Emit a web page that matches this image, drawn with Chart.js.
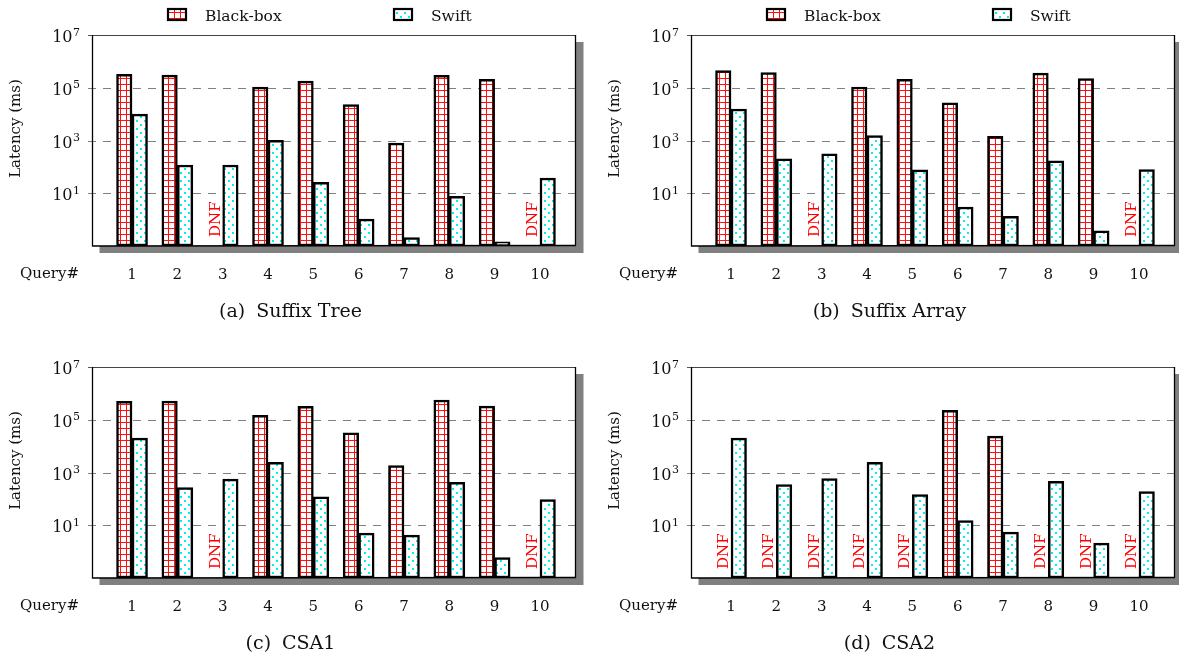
<!DOCTYPE html>
<html><head><meta charset="utf-8">
<script src="https://cdn.jsdelivr.net/npm/chart.js@4.4.0/dist/chart.umd.min.js"></script>
<style>
html,body{margin:0;padding:0;background:#fff;overflow:hidden;width:1179px;height:655px}
.p{position:absolute}
</style></head><body>
<div class="p" style="left:0;top:0"><canvas id="ca" width="590" height="330"></canvas></div>
<div class="p" style="left:599px;top:0"><canvas id="cb" width="580" height="330"></canvas></div>
<div class="p" style="left:0;top:332px"><canvas id="cc" width="590" height="330"></canvas></div>
<div class="p" style="left:599px;top:332px"><canvas id="cd" width="580" height="330"></canvas></div>
<script>
const queries = ['1','2','3','4','5','6','7','8','9','10'];
const yTickValues = [1e1, 1e3, 1e5, 1e7];
const seriesNames = ['Black-box', 'Swift'];
const panelLabels = ['(a)', '(b)', '(c)', '(d)'];
const panelNames = ['Suffix Tree', 'Suffix Array', 'CSA1', 'CSA2'];
const yTitle = 'Latency (ms)';
const xTitle = 'Query#';
const dnfText = 'DNF';

const blackBoxSuffixTree  = [3.2e5, 3.0e5, null, 1.06e5, 1.78e5, 2.3e4, 790, 2.95e5, 2.1e5, null];
const swiftSuffixTree     = [1.0e4, 118, 118, 1020, 26, 1.05, 0.21, 7.6, 0.145, 38];
const blackBoxSuffixArray = [4.5e5, 3.8e5, null, 1.07e5, 2.1e5, 2.7e4, 1450, 3.6e5, 2.25e5, null];
const swiftSuffixArray    = [1.56e4, 200, 310, 1540, 77, 3.0, 1.32, 168, 0.38, 79];
const blackBoxCSA1        = [5.0e5, 5.1e5, null, 1.48e5, 3.2e5, 3.2e4, 1840, 5.6e5, 3.3e5, null];
const swiftCSA1           = [2.0e4, 270, 560, 2450, 120, 5.0, 4.2, 420, 0.59, 95];
const blackBoxCSA2        = [null, null, null, null, null, 2.3e5, 2.4e4, null, null, null];
const swiftCSA2           = [2.0e4, 350, 590, 2450, 147, 15, 5.5, 460, 2.1, 190];

const SERIF = '"DejaVu Serif", serif';
const TXT = '#111';

const pctx = document.createElement('canvas').getContext('2d');
function makeGrid() {
  const c = document.createElement('canvas'); c.width = 6; c.height = 6;
  const g = c.getContext('2d');
  g.fillStyle = '#fff'; g.fillRect(0, 0, 6, 6);
  g.fillStyle = '#ff1010'; g.fillRect(0, 0, 6, 1); g.fillRect(0, 0, 1, 6);
  return pctx.createPattern(c, 'repeat');
}
function makeDots() {
  const c = document.createElement('canvas'); c.width = 8; c.height = 8;
  const g = c.getContext('2d');
  g.fillStyle = '#fff'; g.fillRect(0, 0, 8, 8);
  g.fillStyle = '#00f0f0'; g.fillRect(0, 0, 2, 2); g.fillRect(4, 4, 2, 2);
  return pctx.createPattern(c, 'repeat');
}
const redGrid = makeGrid();
const cyanDots = makeDots();
const fills = [redGrid, cyanDots];

const decor = {
  id: 'decor',
  beforeDraw(chart) {
    const ctx = chart.ctx, a = chart.chartArea, ys = chart.scales.y;
    ctx.save();
    ctx.fillStyle = '#fff'; ctx.fillRect(0, 0, chart.width, chart.height);
    ctx.fillStyle = '#808080';
    ctx.fillRect(a.left + 7.5, a.top + 7, a.right - a.left, a.bottom - a.top);
    ctx.fillStyle = '#fff';
    ctx.fillRect(a.left, a.top, a.right - a.left, a.bottom - a.top);
    ctx.strokeStyle = '#808080'; ctx.lineWidth = 1.2; ctx.setLineDash([8, 7]);
    yTickValues.forEach(v => {
      if (v >= ys.max) return;
      const y = Math.round(ys.getPixelForValue(v)) + 0.5;
      ctx.beginPath(); ctx.moveTo(a.left - 4, y); ctx.lineTo(a.right, y); ctx.stroke();
    });
    ctx.restore();
  },
  afterDatasetsDraw(chart, args, opts) {
    const ctx = chart.ctx, a = chart.chartArea, ys = chart.scales.y, xs = chart.scales.x;
    ctx.save();
    ctx.setLineDash([]);
    ctx.strokeStyle = '#444'; ctx.lineWidth = 1.2;
    ctx.beginPath(); ctx.moveTo(a.left, a.top + 0.5); ctx.lineTo(a.right, a.top + 0.5); ctx.stroke();
    ctx.strokeStyle = '#000'; ctx.lineWidth = 1.3;
    ctx.beginPath(); ctx.moveTo(a.right - 0.5, a.top); ctx.lineTo(a.right - 0.5, a.bottom); ctx.stroke();
    ctx.beginPath(); ctx.moveTo(a.left + 0.5, a.top); ctx.lineTo(a.left + 0.5, a.bottom);
    ctx.lineTo(a.right, a.bottom - 0.5); ctx.stroke();
    ctx.strokeStyle = '#555'; ctx.lineWidth = 1;
    const yt = Math.round(ys.getPixelForValue(ys.max)) + 0.5;
    ctx.beginPath(); ctx.moveTo(a.left - 4, yt); ctx.lineTo(a.left, yt); ctx.stroke();
    const bb = chart.data.datasets[0].data;
    ctx.fillStyle = '#ff0000';
    ctx.font = '15px ' + SERIF;
    ctx.textAlign = 'left'; ctx.textBaseline = 'middle';
    bb.forEach(p => {
      if (p.y === null || p.y === undefined) {
        const x = xs.getPixelForValue(p.x) - 7.5;
        ctx.save();
        ctx.translate(x + 0.5, a.bottom - 9);
        ctx.rotate(-Math.PI / 2);
        ctx.fillText(dnfText, 0, 0);
        ctx.restore();
      }
    });
    ctx.restore();
  },
  afterDraw(chart, args, opts) {
    const ctx = chart.ctx, a = chart.chartArea, ys = chart.scales.y;
    ctx.save();
    ctx.fillStyle = TXT;
    yTickValues.forEach(v => {
      const y = ys.getPixelForValue(v);
      const e = String(Math.round(Math.log10(v)));
      ctx.textAlign = 'right'; ctx.textBaseline = 'alphabetic';
      ctx.font = '11px ' + SERIF;
      const ex = a.left - 12;
      ctx.fillText(e, ex, y + 0.5);
      const ew = ctx.measureText(e).width;
      ctx.font = '16px ' + SERIF;
      ctx.fillText('10', ex - ew - 0.5, y + 7);
    });
    ctx.save();
    ctx.translate(16, 128.5);
    ctx.rotate(-Math.PI / 2);
    ctx.textAlign = 'center'; ctx.textBaseline = 'middle';
    ctx.font = '15px ' + SERIF;
    ctx.fillText(yTitle, 0, 0);
    ctx.restore();
    ctx.textAlign = 'left'; ctx.textBaseline = 'alphabetic';
    ctx.font = '15px ' + SERIF;
    ctx.fillText(xTitle, 20, 278);
    ctx.font = '19px ' + SERIF;
    const w1 = ctx.measureText(opts.label).width, w2 = ctx.measureText(opts.name).width;
    const gap = 11, tot = w1 + gap + w2;
    const cx0 = 290.5 - tot / 2;
    ctx.fillText(opts.label, cx0, 317);
    ctx.fillText(opts.name, cx0 + w1 + gap, 317);
    if (opts.legend) {
      const boxes = [167, 393];
      ctx.font = '15.5px ' + SERIF;
      seriesNames.forEach((n, i) => {
        const bx = boxes[i];
        ctx.fillStyle = fills[i];
        ctx.fillRect(bx, 8, 20, 13);
        ctx.strokeStyle = '#000'; ctx.lineWidth = 2.2;
        ctx.strokeRect(bx + 1, 9, 18, 11);
        ctx.fillStyle = TXT;
        ctx.fillText(n, bx + 38, 21);
      });
    }
    ctx.restore();
  }
};

function makePanel(id, W, bb, sw, k, legend) {
  const toPts = arr => arr.map((v, i) => ({ x: i + 1, y: v }));
  new Chart(document.getElementById(id), {
    type: 'bar',
    data: {
      datasets: [
        { label: seriesNames[0], data: toPts(bb), backgroundColor: redGrid, borderColor: '#000', borderWidth: 2.5, borderSkipped: false, barThickness: 15.5 },
        { label: seriesNames[1], data: toPts(sw), backgroundColor: cyanDots, borderColor: '#000', borderWidth: 2.5, borderSkipped: false, barThickness: 15.5 }
      ]
    },
    options: {
      responsive: false, animation: false, devicePixelRatio: 1,
      layout: { padding: { left: 0, top: 35, right: W - 576, bottom: 0 } },
      plugins: {
        legend: { display: false }, tooltip: { enabled: false },
        decor: { label: panelLabels[k], name: panelNames[k], legend: legend }
      },
      scales: {
        x: {
          type: 'linear', min: 0.117, max: 10.795, offset: false,
          grid: { display: false, drawTicks: false }, border: { display: false },
          afterBuildTicks: s => { s.ticks = queries.map((q, i) => ({ value: i + 1 })); },
          afterFit: s => { s.height = 84; },
          ticks: {
            autoSkip: false, maxRotation: 0, minRotation: 0, padding: 20,
            font: { family: SERIF, size: 15 }, color: TXT,
            callback: v => queries[Math.round(v) - 1]
          }
        },
        y: {
          type: 'logarithmic', min: 0.1, max: 1e7,
          grid: { display: false, drawTicks: false }, border: { display: false },
          ticks: { display: false },
          afterBuildTicks: s => { s.ticks = yTickValues.map(v => ({ value: v })); },
          afterFit: s => { s.width = 92; }
        }
      }
    },
    plugins: [decor]
  });
}

makePanel('ca', 590, blackBoxSuffixTree, swiftSuffixTree, 0, true);
makePanel('cb', 580, blackBoxSuffixArray, swiftSuffixArray, 1, true);
makePanel('cc', 590, blackBoxCSA1, swiftCSA1, 2, false);
makePanel('cd', 580, blackBoxCSA2, swiftCSA2, 3, false);
</script>
</body></html>
